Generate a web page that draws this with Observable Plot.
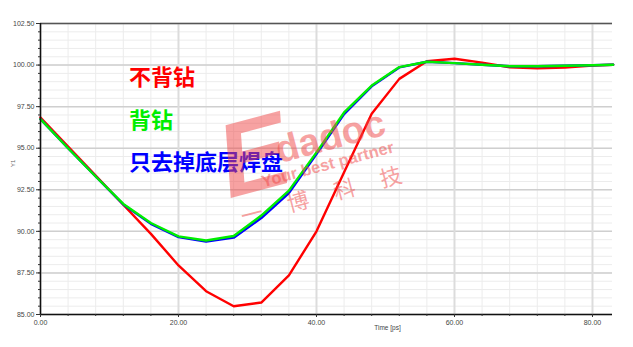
<!DOCTYPE html>
<html>
<head>
<meta charset="utf-8">
<script src="https://cdn.jsdelivr.net/npm/d3@7"></script>
<script src="https://cdn.jsdelivr.net/npm/@observablehq/plot@0.6"></script>
<style>
  html, body { margin: 0; padding: 0; background: #fff; }
  #wrap { position: relative; width: 633px; height: 347px; overflow: hidden; }
  .lbl { position: absolute; font-family: "Noto Sans CJK SC", sans-serif; font-weight: 700; font-size: 22px; line-height: 1; white-space: nowrap; }
  #wm { position: absolute; left: 212px; top: 112px; width: 1px; height: 1px; transform: rotate(-15deg); transform-origin: 0 0; color: rgba(240,70,70,0.5); font-family: "Liberation Sans", sans-serif; font-weight: 700; white-space: nowrap; pointer-events: none; }
  #wm div { position: absolute; line-height: 1; }
</style>
</head>
<body>
<div id="wrap"></div>
<script>
const time = [0, 4, 8, 12, 16, 20, 24, 28, 32, 36, 40, 44, 48, 52, 56, 60, 64, 68, 72, 76, 80, 83];
const noBackdrill = [96.85, 95.1, 93.35, 91.6, 89.85, 87.95, 86.4, 85.5, 85.72, 87.35, 90.0, 93.55, 97.07, 99.17, 100.23, 100.38, 100.15, 99.87, 99.8, 99.85, 99.97, 100.02];
const backdrill = [96.75, 95.0, 93.3, 91.65, 90.5, 89.7, 89.45, 89.72, 90.95, 92.45, 94.75, 97.15, 98.77, 99.88, 100.2, 100.12, 100.02, 99.93, 99.93, 99.96, 99.99, 100.02];
const padOnly = [96.75, 95.0, 93.3, 91.62, 90.45, 89.65, 89.38, 89.62, 90.8, 92.3, 94.65, 97.05, 98.72, 99.86, 100.2, 100.12, 100.02, 99.93, 99.93, 99.96, 99.99, 100.02];
const seriesNames = ["不背钻", "背钻", "只去掉底层焊盘"];
const seriesColors = ["#ff0000", "#00ee00", "#0000ff"];
const yMajor = [85, 87.5, 90, 92.5, 95, 97.5, 100, 102.5];
const xMajor = [0, 20, 40, 60, 80];
const xLabel = "Time [ps]";
const yLabel = "Y1";

const yMinor = d3.range(85, 102.51, 0.5);
const xMinor = d3.range(0, 83, 4);

const rows = [];
const all = [noBackdrill, padOnly, backdrill];
const allNames = [seriesNames[0], seriesNames[2], seriesNames[1]];
all.forEach((vals, k) => vals.forEach((v, i) => rows.push({t: time[i], v, s: allNames[k]})));

const plot = Plot.plot({
  width: 633,
  height: 347,
  marginLeft: 40,
  marginRight: 21,
  marginTop: 23,
  marginBottom: 33,
  style: {fontFamily: "Liberation Sans, sans-serif", background: "#fff"},
  x: {domain: [0, 82.9]},
  y: {domain: [85, 102.5]},
  color: {domain: seriesNames, range: seriesColors},
  marks: [
    Plot.gridY(yMinor, {stroke: "#ececec", strokeOpacity: 1, strokeWidth: 1}),
    Plot.gridX(xMinor, {stroke: "#ececec", strokeOpacity: 1, strokeWidth: 1}),
    Plot.gridY(yMajor, {stroke: "#cfcfcf", strokeOpacity: 1, strokeWidth: 1.5}),
    Plot.gridX(xMajor, {stroke: "#dcdcdc", strokeOpacity: 1, strokeWidth: 2}),
    Plot.line(rows, {x: "t", y: "v", z: "s", stroke: "s", strokeWidth: 2.4}),
    Plot.ruleY([102.5], {stroke: "#555", strokeWidth: 1.5}),
    Plot.ruleY([85], {stroke: "#111", strokeWidth: 1.5}),
    Plot.ruleX([0], {stroke: "#111", strokeWidth: 1.5}),
    Plot.axisY(yMinor, {tickSize: 2, text: null, label: null, stroke: "#333"}),
    Plot.axisY(yMajor, {tickSize: 4, tickPadding: 2, tickFormat: d => d.toFixed(2), fontSize: 7, fill: "#444", label: null, stroke: "#333"}),
    Plot.axisX(xMinor, {tickSize: 2, text: null, label: null, stroke: "#333"}),
    Plot.axisX(xMajor, {tickSize: 3, tickPadding: 3, tickFormat: d => d.toFixed(2), fontSize: 7, fill: "#444", label: null, stroke: "#333"}),
    Plot.text([xLabel], {frameAnchor: "bottom", dy: 15, dx: 61, fontSize: 6.5, fill: "#444"}),
    Plot.text([yLabel], {frameAnchor: "left", dx: -27, dy: -2, rotate: -90, fontSize: 6, fill: "#666"})
  ]
});
const wrap = document.getElementById("wrap");
wrap.appendChild(plot);

const labelTops = [64, 107, 149];
seriesNames.forEach((n, i) => {
  const d = document.createElement("div");
  d.className = "lbl";
  d.textContent = n;
  d.style.left = "129px";
  d.style.top = labelTops[i] + "px";
  d.style.color = seriesColors[i];
  wrap.appendChild(d);
});

const wm = document.createElement("div");
wm.id = "wm";
wm.innerHTML =
  '<div style="left:-6px;top:0px;font-size:104px;font-style:italic">E</div>' +
  '<div style="left:52px;top:35px;font-size:38px">dadoc</div>' +
  '<div style="left:30px;top:72px;font-size:16.5px">Your best partner</div>' +
  '<div style="left:1px;top:96px;font-family:\'Noto Sans CJK SC\';font-size:22px;font-weight:400;letter-spacing:26px">一博科技</div>';
wrap.appendChild(wm);
</script>
</body>
</html>
